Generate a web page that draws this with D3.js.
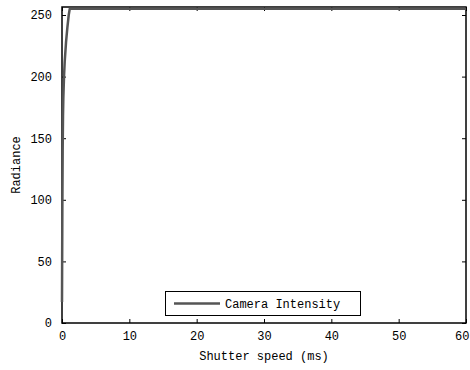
<!DOCTYPE html>
<html><head><meta charset="utf-8">
<script src="https://cdn.jsdelivr.net/npm/d3@7"></script>
<style>body{margin:0;background:#fff}svg{display:block}text{font-family:"Liberation Mono","DejaVu Sans Mono",monospace;font-size:12px;fill:#000}</style>
</head><body><svg id="c" width="470" height="370"></svg>
<script>
const shutterMs = [0, 0.05, 0.1, 0.15, 0.2, 0.3, 0.4, 0.6, 0.8, 1.0, 1.15, 60];
const intensity = [17, 90, 140, 168, 183, 200, 212, 228, 240, 250, 255, 255];
const xTicks = [0, 10, 20, 30, 40, 50, 60];
const yTicks = [0, 50, 100, 150, 200, 250];
const seriesName = "Camera Intensity";

const svg = d3.select("#c");
const L = 62, R = 466, T = 7, B = 323;
const x = d3.scaleLinear().domain([0, 60]).range([L, R]);
const y = d3.scaleLinear().domain([0, 256.5]).range([B, T]);

// frame
svg.append("rect").attr("x", L).attr("y", T).attr("width", R - L).attr("height", B - T)
  .attr("fill", "none").attr("stroke", "#000").attr("stroke-width", 1.5);

// axes (ticks inward)
svg.append("g").attr("transform", `translate(0,${B})`)
  .call(d3.axisBottom(x).tickValues(xTicks).tickSize(-4).tickPadding(8).tickFormat(d3.format("d")))
  .call(g => g.select(".domain").remove())
  .call(g => g.selectAll(".tick text").filter(d => d === 60).attr("text-anchor", "end").attr("x", 3));
svg.append("g").attr("transform", `translate(0,${T})`)
  .call(d3.axisTop(x).tickValues(xTicks).tickSize(-4).tickFormat(""))
  .call(g => g.select(".domain").remove());
svg.append("g").attr("transform", `translate(${L},0)`)
  .call(d3.axisLeft(y).tickValues(yTicks).tickSize(-4).tickPadding(10).tickFormat(d3.format("d")))
  .call(g => g.select(".domain").remove());
svg.append("g").attr("transform", `translate(${R},0)`)
  .call(d3.axisRight(y).tickValues(yTicks).tickSize(-4).tickFormat(""))
  .call(g => g.select(".domain").remove());
svg.selectAll(".tick text").style("font-family", '"Liberation Mono","DejaVu Sans Mono",monospace').style("font-size", "12px").attr("fill", "#000");
svg.selectAll(".tick line").attr("stroke", "#000");

// line
const line = d3.line().x((d, i) => x(shutterMs[i])).y(d => y(d));
svg.append("path").datum(intensity).attr("d", line)
  .attr("fill", "none").attr("stroke", "#555").attr("stroke-width", 2.5).attr("stroke-linejoin", "round");

// labels
svg.append("text").attr("x", (L + R) / 2).attr("y", 360).attr("text-anchor", "middle").text("Shutter speed (ms)");
svg.append("text").attr("transform", `translate(20,${(T + B) / 2}) rotate(-90)`).attr("text-anchor", "middle").text("Radiance");

// legend
const lg = svg.append("g");
lg.append("rect").attr("x", 165.5).attr("y", 291.5).attr("width", 195).attr("height", 24)
  .attr("fill", "#fff").attr("stroke", "#000").attr("stroke-width", 1);
lg.append("line").attr("x1", 174).attr("x2", 220).attr("y1", 303.5).attr("y2", 303.5)
  .attr("stroke", "#555").attr("stroke-width", 2.5);
lg.append("text").attr("x", 225).attr("y", 308).text(seriesName);
</script></body></html>
